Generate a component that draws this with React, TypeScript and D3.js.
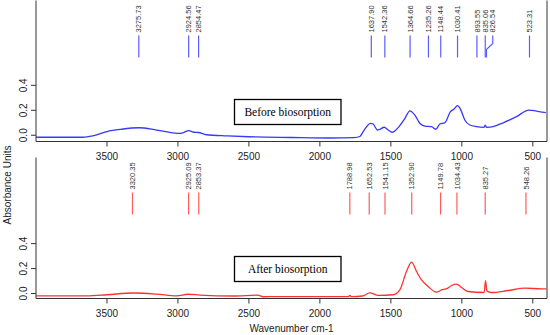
import React from "react";
import * as d3 from "d3";

// spectrum before biosorption (wavenumber, absorbance)
const beforeWave = [4000, 3670, 3600, 3500, 3400, 3275, 3150, 3000, 2960, 2925, 2890, 2855, 2800, 2650, 2500, 2200, 1930, 1760, 1718, 1695, 1643, 1625, 1594, 1577, 1547, 1519, 1491, 1449, 1401, 1366, 1331, 1296, 1261, 1213, 1183, 1155, 1120, 1080, 1056, 1030, 1009, 979, 944, 896, 845, 835, 826, 780, 709, 615, 528, 474, 408];
const beforeAbs = [-0.016, -0.016, -0.005, 0.03, 0.048, 0.06, 0.042, 0.015, 0.022, 0.037, 0.024, 0.022, 0.004, -0.005, -0.012, -0.018, -0.022, -0.019, -0.01, 0.03, 0.096, 0.09, 0.042, 0.048, 0.064, 0.042, 0.024, 0.061, 0.136, 0.196, 0.162, 0.096, 0.074, 0.069, 0.048, 0.09, 0.1, 0.189, 0.208, 0.237, 0.208, 0.122, 0.082, 0.069, 0.064, 0.082, 0.064, 0.069, 0.1, 0.149, 0.202, 0.194, 0.181];

// spectrum after biosorption
const afterWave = [4000, 3645, 3500, 3316, 3150, 3010, 2930, 2845, 2613, 2437, 2401, 2320, 1800, 1789, 1778, 1700, 1648, 1589, 1484, 1437, 1390, 1354, 1319, 1284, 1237, 1178, 1143, 1110, 1072, 1037, 1002, 955, 843, 833, 824, 791, 674, 556, 439, 404];
const afterAbs = [-0.019, -0.019, -0.01, 0.004, -0.005, -0.019, -0.006, -0.013, -0.02, -0.013, -0.026, -0.025, -0.025, -0.015, -0.025, -0.02, 0.005, -0.015, -0.01, 0.029, 0.176, 0.251, 0.176, 0.109, 0.056, 0.011, 0.029, 0.037, 0.064, 0.075, 0.048, 0.016, 0.008, 0.104, 0.021, 0.008, 0.024, 0.043, 0.037, 0.037];

// labelled peaks
const beforePeaks = [3275.73, 2924.56, 2854.47, 1637.9, 1542.36, 1364.66, 1235.26, 1148.44, 1030.41, 893.55, 835.06, 826.54, 523.31];
const afterPeaks = [3320.35, 2925.09, 2853.37, 1788.98, 1652.53, 1541.15, 1352.9, 1149.78, 1034.43, 835.27, 548.26];

const xTicks = [3500, 3000, 2500, 2000, 1500, 1000, 500];
const yTicks = [0, 0.2, 0.4];

const W = 550;
const H = 335;
const left = 36;
const right = 547;

const x = d3.scaleLinear().domain([4000, 400]).range([left, right]);

function Panel({ top, bottom, yDomain, wave, abs, peaks, color, peakColor, label, clipId }) {
  const y = d3.scaleLinear().domain(yDomain).range([bottom, top]);
  const pts = wave.map((w, i) => [w, abs[i]]);
  const line = d3
    .line()
    .x(d => x(d[0]))
    .y(d => y(d[1]))
    .curve(d3.curveMonotoneX);

  // spread labels so they don't overlap
  const minGap = 7.5;
  const sorted = peaks.map(p => ({ p, px: x(p), lx: x(p) })).sort((a, b) => a.px - b.px);
  for (let i = 1; i < sorted.length; i++) {
    if (sorted[i].lx - sorted[i - 1].lx < minGap) sorted[i].lx = sorted[i - 1].lx + minGap;
  }

  const axisCol = "#333";
  return (
    <g>
      <clipPath id={clipId}>
        <rect x={left} y={top} width={right - left} height={bottom - top} />
      </clipPath>
      <path d={line(pts)} fill="none" stroke={color} strokeWidth={1.3} clipPath={`url(#${clipId})`} />

      {sorted.map((s, i) => {
        const bent = Math.abs(s.lx - s.px) > 0.5;
        const d = bent
          ? `M${s.lx},${top + 35}V${top + 43}L${s.px},${top + 49}V${top + 57}`
          : `M${s.px},${top + 35}V${top + 57}`;
        return (
          <g key={i}>
            <path d={d} fill="none" stroke={peakColor} strokeWidth={1.2} />
            <text
              transform={`translate(${s.lx + 2.6},${top + 32}) rotate(-90)`}
              fontSize={7.5}
              fill="#333"
              fontFamily="Liberation Sans, Arial, sans-serif"
            >
              {s.p.toFixed(2)}
            </text>
          </g>
        );
      })}

      <path d={`M${left},${top}V${bottom}H${right}V${top}`} fill="none" stroke={axisCol} strokeWidth={1} />

      {xTicks.map(t => (
        <g key={t}>
          <line x1={x(t)} x2={x(t)} y1={bottom} y2={bottom + 5} stroke={axisCol} />
          <text
            x={x(t)}
            y={bottom + 18.5}
            textAnchor="middle"
            fontSize={10}
            fill="#222"
            fontFamily="Liberation Sans, Arial, sans-serif"
          >
            {t}
          </text>
        </g>
      ))}
      {yTicks.map(t => (
        <g key={t}>
          <line x1={left - 5} x2={left} y1={y(t)} y2={y(t)} stroke={axisCol} />
          <text
            transform={`translate(${left - 9.5},${y(t)}) rotate(-90)`}
            textAnchor="middle"
            fontSize={10}
            fill="#222"
            fontFamily="Liberation Sans, Arial, sans-serif"
          >
            {t.toFixed(1)}
          </text>
        </g>
      ))}

      <rect x={234.5} y={top + 99} width={106.5} height={25} fill="white" stroke="#000" strokeWidth={1.3} />
      <text
        x={287.7}
        y={top + 115.5}
        textAnchor="middle"
        fontSize={11.5}
        fill="#000"
        fontFamily="Liberation Serif, Times New Roman, serif"
      >
        {label}
      </text>
    </g>
  );
}

export default function App() {
  return (
    <svg width={W} height={H} style={{ position: "absolute", left: 0, top: 0, background: "white" }}>
      <Panel
        top={0.5}
        bottom={141.5}
        yDomain={[-0.05, 1.08]}
        wave={beforeWave}
        abs={beforeAbs}
        peaks={beforePeaks}
        color="#3838f8"
        peakColor="#5c5cff"
        label="Before biosorption"
        clipId="clipTop"
      />
      <Panel
        top={157.5}
        bottom={298.5}
        yDomain={[-0.04, 1.09]}
        wave={afterWave}
        abs={afterAbs}
        peaks={afterPeaks}
        color="#ff3030"
        peakColor="#ff5c5c"
        label="After biosorption"
        clipId="clipBottom"
      />
      <text
        transform="translate(11,185) rotate(-90)"
        textAnchor="middle"
        fontSize={10}
        fill="#222"
        fontFamily="Liberation Sans, Arial, sans-serif"
      >
        Absorbance Units
      </text>
      <text
        x={291.5}
        y={331.5}
        textAnchor="middle"
        fontSize={10}
        fill="#222"
        fontFamily="Liberation Sans, Arial, sans-serif"
      >
        Wavenumber cm-1
      </text>
    </svg>
  );
}
